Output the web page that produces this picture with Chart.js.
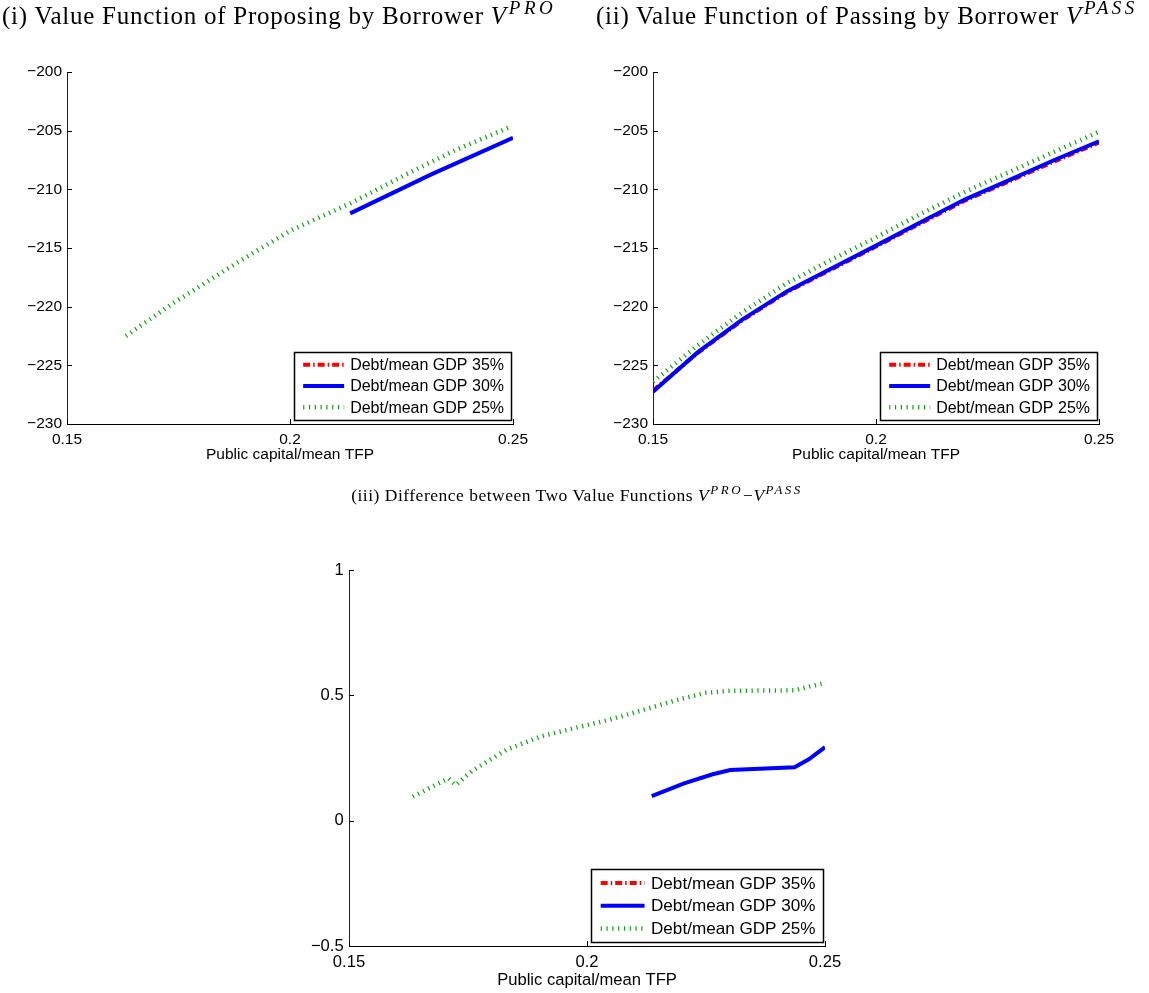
<!DOCTYPE html>
<html>
<head>
<meta charset="utf-8">
<script src="https://cdn.jsdelivr.net/npm/chart.js@4"></script>
<style>
  body { margin: 0; background: #fff; width: 1149px; height: 993px; position: relative; overflow: hidden; }
  .ttl { position: absolute; font-family: "Liberation Serif", "Times New Roman", serif; font-size: 25px;
         line-height: 25px; letter-spacing: 0.75px; white-space: nowrap; color: #000; }
  .ttl sup { font-size: 19px; letter-spacing: 3.5px; position: relative; top: -10px; vertical-align: baseline; line-height: 0; margin-left: 2px; }
  .ttl.small { font-size: 17.5px; line-height: 18px; letter-spacing: 0.5px; }
  .ttl.small sup { font-size: 13px; letter-spacing: 2.5px; top: -7px; margin-left: 1px; }
  canvas { position: absolute; }
</style>
</head>
<body>
<canvas id="c1" width="560" height="470" style="left:0;top:0"></canvas>
<canvas id="c2" width="589" height="470" style="left:560px;top:0"></canvas>
<canvas id="c3" width="1149" height="513" style="left:0;top:480px"></canvas>

<div class="ttl" style="left:2px;top:3px">(i) Value Function of Proposing by Borrower <i>V</i><sup><i>PRO</i></sup></div>
<div class="ttl" style="left:596px;top:3px">(ii) Value Function of Passing by Borrower <i>V</i><sup><i>PASS</i></sup></div>
<div class="ttl small" style="left:577px;top:486px;transform:translateX(-50%)">(iii) Difference between Two Value Functions <i>V</i><sup><i>PRO</i></sup>&minus;<i>V</i><sup><i>PASS</i></sup></div>

<script>
// ---- data ----
const seriesLabels = ['Debt/mean GDP 35%', 'Debt/mean GDP 30%', 'Debt/mean GDP 25%'];
const xTicks = [0.15, 0.2, 0.25];
const levelTicks = [-230, -225, -220, -215, -210, -205, -200];
const diffTicks = [-0.5, 0, 0.5, 1];
const xLabel = 'Public capital/mean TFP';

// (i) proposing
const pro35X = [];
const pro35Y = [];
const pro30X = [0.2135, 0.2318, 0.2500];
const pro30Y = [-212.05, -208.7, -205.6];
const pro25X = [0.1632, 0.1738, 0.1888, 0.2002, 0.2135, 0.2262, 0.2374, 0.2493];
const pro25Y = [-222.5, -219.7, -216.1, -213.5, -211.2, -208.7, -206.6, -204.7];

// (ii) passing
const passX = [0.15, 0.16, 0.17, 0.18, 0.19, 0.20, 0.21, 0.22, 0.23, 0.24, 0.25];
const pass35Y = [-227.15, -223.95, -221.17, -218.77, -216.83, -214.88, -212.9, -210.95, -209.3, -207.62, -206.02];
const pass30Y = [-227.25, -223.9, -221.1, -218.7, -216.75, -214.8, -212.8, -210.85, -209.2, -207.5, -205.9];
const pass25Y = [-226.4, -223.3, -220.5, -218.0, -216.0, -214.1, -212.1, -210.2, -208.5, -206.8, -205.1];

// (iii) difference
const diff35X = [];
const diff35Y = [];
const diff30X = [0.2136, 0.2204, 0.2264, 0.2301, 0.2436, 0.2466, 0.2500];
const diff30Y = [0.098, 0.149, 0.185, 0.202, 0.213, 0.245, 0.293];
const diff25X = [0.1634, 0.1709, 0.1724, 0.1760, 0.1831, 0.1903, 0.1975, 0.2048, 0.2120, 0.2192, 0.2250, 0.2300, 0.2436, 0.2493];
const diff25Y = [0.096, 0.169, 0.142, 0.200, 0.283, 0.336, 0.370, 0.403, 0.443, 0.483, 0.510, 0.518, 0.520, 0.547];

// ---- styles ----
const RED = 'rgb(255,0,0)', BLUE = 'rgb(0,0,255)', GREEN = 'rgb(20,160,20)';
const SANS = '"Liberation Sans", Arial, Helvetica, sans-serif';

function pts(xs, ys) { return xs.map((x, i) => ({ x: x, y: ys[i] })); }
function fmt(v) {
  const s = String(+v.toFixed(2));
  return v < 0 ? '\u2212' + s.slice(1) : s;
}

// matlab draws later series on top: green over blue over red
function makeSets(x35, y35, x30, y30, x25, y25) {
  const base = { showLine: true, pointRadius: 0, fill: false, tension: 0 };
  return [
    Object.assign({}, base, { label: seriesLabels[0], data: pts(x35, y35), order: 3, borderColor: RED, borderWidth: 4, borderDash: [7, 3, 1.5, 3] }),
    Object.assign({}, base, { label: seriesLabels[1], data: pts(x30, y30), order: 2, borderColor: BLUE, borderWidth: 4 }),
    Object.assign({}, base, { label: seriesLabels[2], data: pts(x25, y25), order: 1, borderColor: GREEN, borderWidth: 4.5, borderDash: [1.2, 4.6] })
  ];
}

// inward ticks + boxed legend in the lower right corner
const matlabBits = {
  id: 'matlabBits',
  afterDraw(chart) {
    const ctx = chart.ctx, a = chart.chartArea;
    const xs = chart.scales.x, ys = chart.scales.y;
    const k = chart.options.plugins.matlabBits.k;
    ctx.save();
    ctx.strokeStyle = '#000';
    ctx.lineWidth = 1;
    ctx.setLineDash([]);
    ctx.beginPath();
    xs.ticks.forEach(t => {
      const px = Math.round(xs.getPixelForValue(t.value)) + 0.5;
      ctx.moveTo(px, a.bottom); ctx.lineTo(px, a.bottom - 5);
    });
    ys.ticks.forEach(t => {
      const py = Math.round(ys.getPixelForValue(t.value)) + 0.5;
      ctx.moveTo(a.left, py); ctx.lineTo(a.left + 5, py);
    });
    ctx.stroke();

    // legend box
    const fs = 16 * k;
    ctx.font = fs + 'px ' + SANS;
    const sets = chart.data.datasets;
    const tw = Math.max(...sets.map(d => ctx.measureText(d.label).width));
    const rowH = 21.3 * k;
    const w = 56 * k + tw + 7 * k;
    const h = rowH * sets.length + 4 * k;
    const right = a.right - 2, bottom = a.bottom - 4;
    const left = right - w, top = bottom - h;
    ctx.fillStyle = '#fff';
    ctx.fillRect(left, top, w, h);
    ctx.lineWidth = 1.5;
    ctx.strokeRect(Math.round(left) + 0.5, Math.round(top) + 0.5, Math.round(w), Math.round(h));
    sets.forEach((d, i) => {
      const cy = top + 2 * k + rowH * (i + 0.5);
      ctx.beginPath();
      ctx.strokeStyle = d.borderColor;
      ctx.lineWidth = d.borderWidth;
      ctx.setLineDash(d.borderDash || []);
      ctx.moveTo(left + 9 * k, cy);
      ctx.lineTo(left + 50 * k, cy);
      ctx.stroke();
      ctx.setLineDash([]);
      ctx.fillStyle = '#000';
      ctx.textBaseline = 'middle';
      ctx.textAlign = 'left';
      ctx.fillText(d.label, left + 56 * k, cy + 1);
    });
    ctx.restore();
  }
};

function makeChart(id, sets, yTicks, box, k) {
  const fs = 15.5 * k;
  return new Chart(document.getElementById(id), {
    type: 'scatter',
    data: { datasets: sets },
    options: {
      responsive: false,
      animation: false,
      layout: { padding: { top: box.top, right: box.right, left: 0, bottom: 0 } },
      plugins: { legend: { display: false }, tooltip: { enabled: false }, matlabBits: { k: k } },
      scales: {
        x: {
          type: 'linear', min: xTicks[0], max: xTicks[xTicks.length - 1],
          afterBuildTicks: s => { s.ticks = xTicks.map(v => ({ value: v })); },
          afterFit: s => { s.height = box.xh; },
          grid: { display: false, drawTicks: false },
          border: { display: true, color: '#000', width: 1 },
          ticks: { color: '#000', padding: 6 * k, maxRotation: 0, font: { family: SANS, size: fs }, callback: v => fmt(v) },
          title: { display: true, text: xLabel, color: '#000', font: { family: SANS, size: fs }, padding: { top: 0, bottom: box.tp } }
        },
        y: {
          type: 'linear', min: yTicks[0], max: yTicks[yTicks.length - 1],
          afterBuildTicks: s => { s.ticks = yTicks.map(v => ({ value: v })); },
          afterFit: s => { s.width = box.yw; },
          grid: { display: false, drawTicks: false },
          border: { display: true, color: '#222', width: 1 },
          ticks: { color: '#000', padding: 5 * k, font: { family: SANS, size: fs }, callback: v => fmt(v) }
        }
      }
    },
    plugins: [matlabBits]
  });
}

makeChart('c1', makeSets(pro35X, pro35Y, pro30X, pro30Y, pro25X, pro25Y), levelTicks,
  { top: 72, right: 47, yw: 67, xh: 46, tp: 6 }, 1);
makeChart('c2', makeSets(passX, pass35Y, passX, pass30Y, passX, pass25Y), levelTicks,
  { top: 72, right: 50, yw: 93, xh: 46, tp: 6 }, 1);
makeChart('c3', makeSets(diff35X, diff35Y, diff30X, diff30Y, diff25X, diff25Y), diffTicks,
  { top: 90, right: 324, yw: 349, xh: 47, tp: 3 }, 1.07);
</script>
</body>
</html>
